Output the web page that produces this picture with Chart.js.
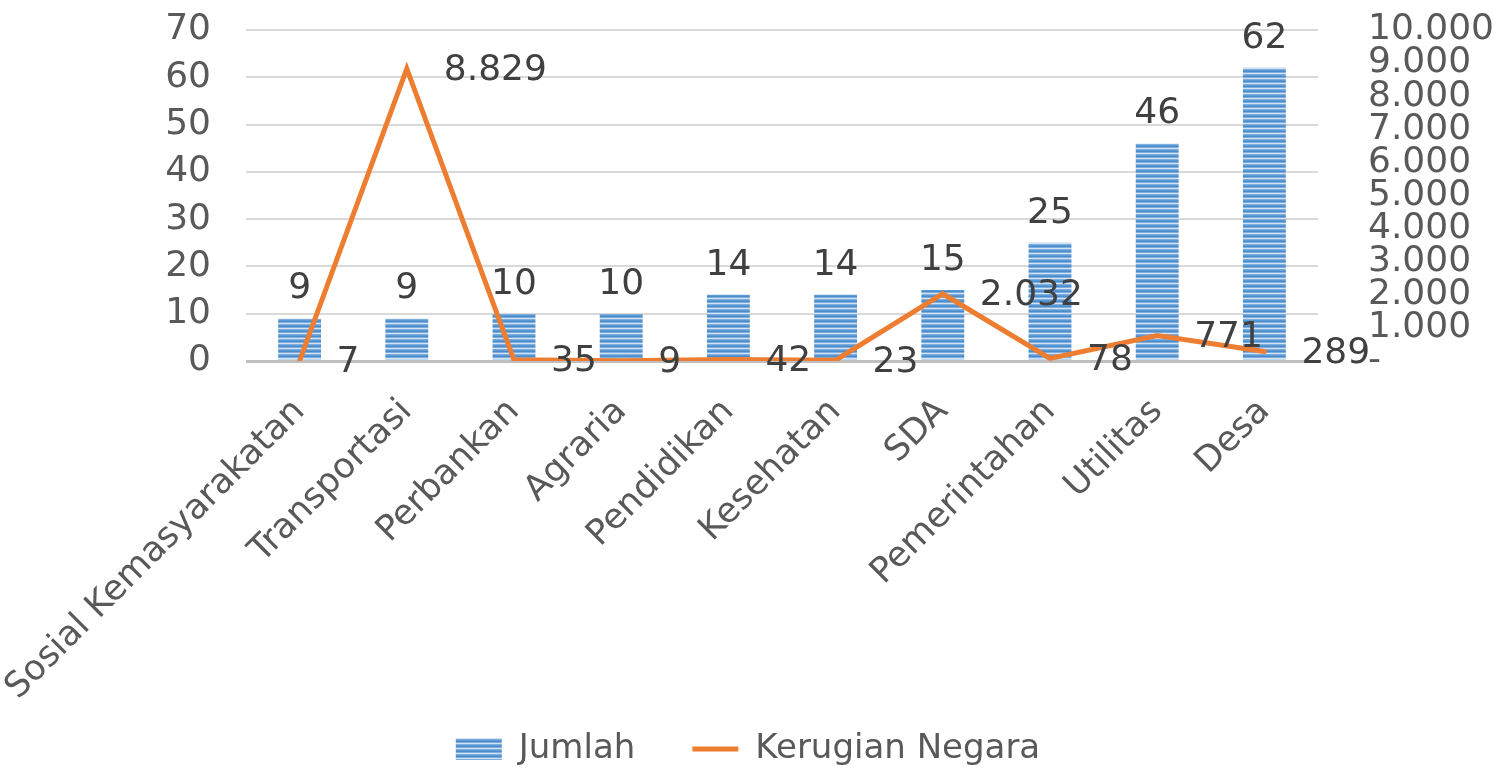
<!DOCTYPE html>
<html>
<head>
<meta charset="utf-8">
<script src="https://cdn.jsdelivr.net/npm/chart.js@4/dist/chart.umd.min.js"></script>
<style>
  html, body { margin: 0; padding: 0; background: #fff; }
  #wrap { width: 1496px; height: 768px; }
</style>
</head>
<body>
<div id="wrap"><canvas id="chart" width="1496" height="768"></canvas></div>
<script>
const categories = ['Sosial Kemasyarakatan', 'Transportasi', 'Perbankan', 'Agraria', 'Pendidikan',
  'Kesehatan', 'SDA', 'Pemerintahan', 'Utilitas', 'Desa'];
const jumlah = [9, 9, 10, 10, 14, 14, 15, 25, 46, 62];
const kerugian = [7, 8829, 35, 9, 42, 23, 2032, 78, 771, 289];

const FONT = "'DejaVu Sans', sans-serif";
const fmt = v => v === 0 ? '-' : v.toLocaleString('de-DE');

// striped fill like the excel bars
function stripes() {
  const c = document.createElement('canvas');
  c.width = 4; c.height = 5;
  const g = c.getContext('2d');
  const rows = ['#5b9bd5', '#4a8bcc', '#7fadde', '#d2e3f4', '#7fadde'];
  rows.forEach((col, i) => { g.fillStyle = col; g.fillRect(0, i, 4, 1); });
  return g.createPattern(c, 'repeat');
}
const barFill = stripes();

const valueLabels = {
  id: 'valueLabels',
  afterDatasetsDraw(chart) {
    const ctx = chart.ctx;
    ctx.save();
    ctx.font = '36px ' + FONT;
    ctx.fillStyle = '#404040';
    chart.getDatasetMeta(0).data.forEach((bar, i) => {
      ctx.textAlign = 'center';
      ctx.textBaseline = 'alphabetic';
      ctx.fillText(fmt(jumlah[i]), bar.x, bar.y - 20);
    });
    chart.getDatasetMeta(1).data.forEach((pt, i) => {
      ctx.textAlign = 'left';
      ctx.textBaseline = 'middle';
      ctx.fillText(fmt(kerugian[i]), pt.x + 37, pt.y + 2);
    });
    ctx.restore();
  }
};

// tick padding should not push the plot area around
const noPadY = s => { s.paddingTop = 0; s.paddingBottom = 0; };

new Chart(document.getElementById('chart'), {
  data: {
    labels: categories,
    datasets: [
      {
        type: 'bar', label: 'Jumlah', data: jumlah, yAxisID: 'y', order: 2,
        backgroundColor: barFill, borderWidth: 0, pointStyle: 'rect',
        barPercentage: 0.8, categoryPercentage: 0.5
      },
      {
        type: 'line', label: 'Kerugian Negara', data: kerugian, yAxisID: 'y1', order: 1,
        borderColor: '#ed7d31', backgroundColor: '#ed7d31', borderWidth: 5,
        pointRadius: 0, pointStyle: 'line', tension: 0, borderCapStyle: 'round'
      }
    ]
  },
  options: {
    responsive: false,
    animation: false,
    layout: { padding: { top: 30, left: 0, right: 0, bottom: -8 } },
    plugins: {
      tooltip: { enabled: false },
      legend: {
        position: 'bottom',
        labels: {
          usePointStyle: true, pointStyleWidth: 46, boxHeight: 22,
          color: '#595959', font: { family: FONT, size: 34 }, padding: 3,
          sort: (a, b) => a.datasetIndex - b.datasetIndex,
          generateLabels: chart => Chart.defaults.plugins.legend.labels.generateLabels(chart)
            .map(it => (it.datasetIndex === 0 ? Object.assign(it, { text: it.text + '     ' }) : it))
        }
      }
    },
    scales: {
      x: {
        grid: { display: false },
        border: { display: false },
        ticks: {
          color: '#595959', font: { family: FONT, size: 35 },
          minRotation: 45, maxRotation: 45, padding: 22
        },
        afterFit: s => { s.height = 368; s.paddingLeft = 0; s.paddingRight = 0; }
      },
      y: {
        position: 'left', min: 0, max: 70,
        ticks: { stepSize: 10, autoSkip: false, color: '#595959', font: { family: FONT, size: 36 }, padding: 35 },
        grid: {
          drawTicks: false,
          color: ctx => ctx.tick.value === 0 ? '#bfbfbf' : '#d9d9d9',
          lineWidth: ctx => ctx.tick.value === 0 ? 3 : 2
        },
        border: { display: false },
        afterFit: s => { s.width = 246; noPadY(s); }
      },
      y1: {
        position: 'right', min: 0, max: 10000,
        ticks: { stepSize: 1000, autoSkip: false, color: '#595959', font: { family: FONT, size: 36 }, padding: 50,
          callback: v => fmt(v) },
        grid: { display: false, drawTicks: false },
        border: { display: false },
        afterFit: s => { s.width = 178; noPadY(s); }
      }
    }
  },
  plugins: [valueLabels]
});
</script>
</body>
</html>
